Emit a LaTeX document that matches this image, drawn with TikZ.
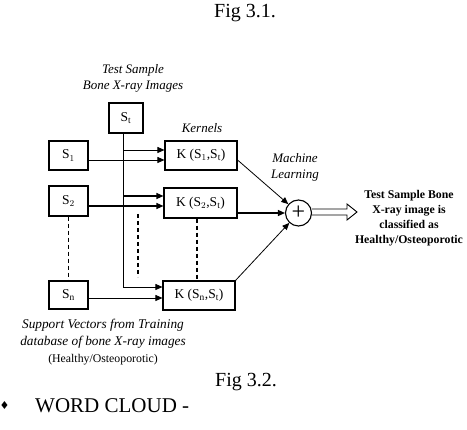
\documentclass[tikz,border=0pt]{standalone}
\usepackage{fontspec}
\setmainfont{Liberation Serif}
\newfontfamily\dejavu{DejaVu Sans}
\usetikzlibrary{arrows.meta}
\begin{document}
\begin{tikzpicture}[x=1pt,y=-1pt,
  box/.style={draw,line width=1.1pt,inner sep=0pt,font=\fontsize{13.5}{15}\selectfont},
  lab/.style={align=center,font=\fontsize{13}{16}\selectfont\itshape},
  arr/.style={line width=1.2pt,-{Triangle[length=7pt,width=6pt]}},
  thinarr/.style={line width=0.8pt,-{Triangle[length=7pt,width=6pt]}},
  dsh/.style={line width=1.2pt,dash pattern=on 4pt off 3pt}]
\useasboundingbox (0,0) rectangle (467,430);
% titles
\node[font=\fontsize{20}{24}\selectfont] (fig1) at (245,13) {Fig 3.1.};
\node[font=\fontsize{20}{24}\selectfont] (fig2) at (246,382) {Fig 3.2.};
\node[font=\dejavu\fontsize{11}{12}\selectfont,inner sep=0pt] (bul) at (4.5,405) {♦};
\node[font=\fontsize{21}{24}\selectfont,anchor=west,inner sep=0pt] (wc) at (35,406) {WORD CLOUD -};
% labels
\node[lab] (tst) at (133,78) {Test Sample\\Bone X-ray Images};
\node[lab] (ker) at (202,128) {Kernels};
\node[lab] (ml) at (295,167) {Machine\\Learning};
\node[align=center,font=\fontsize{11.8}{15}\selectfont\bfseries] (out) at (409,218)
  {Test Sample Bone\\X-ray image is\\classified as\\Healthy/Osteoporotic};
\node[align=center,font=\fontsize{13.3}{17}\selectfont] (sup) at (103,342)
  {\textit{Support Vectors from Training}\\\textit{database of bone X-ray images}\\{\fontsize{11.8}{13}\selectfont(Healthy/Osteoporotic)}};
% boxes
\node[box,minimum width=34pt,minimum height=30pt] (St) at (126,118) {S$_\mathrm{t}$};
\node[box,minimum width=39pt,minimum height=29pt] (S1) at (68.5,155.5) {S$_1$};
\node[box,minimum width=39pt,minimum height=30pt] (S2) at (68.5,201) {S$_2$};
\node[box,minimum width=39pt,minimum height=28pt] (Sn) at (68.5,295) {S$_\mathrm{n}$};
\node[box,minimum width=72pt,minimum height=29pt] (K1) at (201,155.5) {K (S$_1$,S$_\mathrm{t}$)};
\node[box,minimum width=73pt,minimum height=30pt] (K2) at (200.5,203) {K (S$_2$,S$_\mathrm{t}$)};
\node[box,minimum width=72pt,minimum height=29pt] (Kn) at (199,295.5) {K (S$_\mathrm{n}$,S$_\mathrm{t}$)};
\node[draw,circle,line width=1.1pt,minimum size=26pt,inner sep=0pt,font=\fontsize{24}{24}\selectfont] (plus) at (298.5,213) {+};
% test sample line
\coordinate (tb) at (123,133);
\coordinate (t1) at (123,150);
\coordinate (t2) at (123,196);
\coordinate (tn) at (123,287);
\draw[line width=0.8pt] (tb) -- (tn);
\draw[thinarr] (t1) -- (t1 -| K1.west);
\draw[arr] (t2) -- (t2 -| K2.west);
\draw[thinarr] (tn) -- (tn -| Kn.west);
% support vector arrows
\coordinate (s1) at (88,160);
\coordinate (s2) at (88,206);
\coordinate (sn) at (88,298);
\draw[thinarr] (s1) -- (s1 -| K1.west);
\draw[arr] (s2) -- (s2 -| K2.west);
\draw[thinarr] (sn) -- (sn -| Kn.west);
% dashed
\draw[dsh] (S2.south) -- (Sn.north);
\draw[dsh] (K2.south -| 197,0) -- (Kn.north -| 197,0);
\coordinate (d1) at (138,214);
\coordinate (d2) at (138,277);
\draw[dsh] (d1) -- (d2);
% to summation
\draw[thinarr] ([yshift=-4.5pt]K1.east) -- (plus);
\draw[arr] (K2.east |- plus) -- (plus);
\draw[thinarr] (Kn.north east) -- (plus);
% output hollow arrow
\draw[line width=0.9pt,line join=miter] (plus.east |- 0,209) -- (347,209) -- (347,204) -- (357,212) -- (347,220) -- (347,215) -- (plus.east |- 0,215);
\end{tikzpicture}
\end{document}
